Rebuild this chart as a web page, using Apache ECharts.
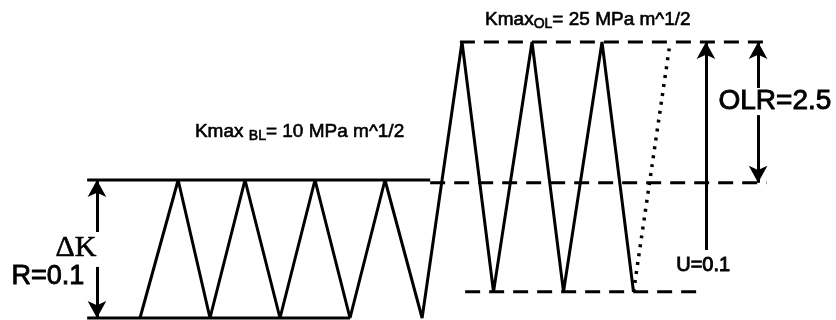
<!DOCTYPE html>
<html><head><meta charset="utf-8">
<script src="https://cdn.jsdelivr.net/npm/echarts@6/dist/echarts.min.js"></script>
<style>html,body{margin:0;padding:0;background:#fff}#c{width:836px;height:320px}</style>
</head><body><div id="c"></div>
<script>
// Schematic units: x = half-cycles, y = K (schematic)
const cycleX = [0, 1.09, 2, 3, 4, 5, 6, 7, 8.06, 9.2, 10.1, 11.2, 12.1, 13.2, 14.1];
const cycleK = [0, 10, 0, 10, 0, 10, 0, 10, 0, 20, 1.9, 20, 1.9, 20, 1.9];
const blMax = 10, blMin = 0, olMax = 20, olMin = 1.9, blMaxDash = 9.8;
const blMaxLineX = [-1.51, 8.29];
const blMaxDashX = [8.29, 17.9];
const blMinLineX = [-1.51, 6.0];
const olMaxDashX = [9.14, 17.9];
const olMinDashX = [9.29, 16.14];
const dottedX = [14.1, 15.14];
const dottedK = [1.9, 19.86];
const uArrowX = 16.17, uArrowK = [4.93, 20];
const olrArrowX = 17.66, olrArrowK = [[16.67, 20], [14.7, 9.8]];
const dkArrowX = -1.23, dkArrowK = [[6.23, 10], [3.7, 0]];
const labelTexts = ['ΔK', 'R=0.1', 'U=0.1', 'OLR=2.5'];
const labelPos = [[-1.83, 5.07], [-2.63, 2.97], [16.09, 3.77], [18.14, 15.72]];
const kmaxBL = ['Kmax', 'BL', '= 10 MPa m^1/2'];
const kmaxOL = ['Kmax', 'OL', '= 25 MPa m^1/2'];
const kmaxPos = [[1.57, 13.48], [9.86, 21.6]];

const chart = echarts.init(document.getElementById('c'));
const black = '#000';
const lineSeries = (data, w, type) => ({
  type: 'line', data, symbol: 'none', silent: true, animation: false, clip: false,
  lineStyle: { color: black, width: w, type: type || 'solid', cap: 'butt' }
});
const arrow = (x, y1, y2) => [{ coord: [x, y1] }, { coord: [x, y2] }];

const series = [
  lineSeries(cycleX.map((x, i) => [x, cycleK[i]]), 3),
  lineSeries(blMaxLineX.map(x => [x, blMax]), 3),
  lineSeries(blMinLineX.map(x => [x, blMin]), 3),
  lineSeries(blMaxDashX.map(x => [x, blMaxDash]), 3, [15, 9]),
  lineSeries(olMaxDashX.map(x => [x, olMax]), 3, [15, 9]),
  lineSeries(olMinDashX.map(x => [x, olMin]), 3, [15, 9]),
  lineSeries(dottedX.map((x, i) => [x, dottedK[i]]), 3.5, [3, 6]),
  {
    type: 'line', data: [], silent: true, animation: false,
    markLine: {
      silent: true, animation: false, symbol: ['none', 'arrow'], symbolSize: [14, 17],
      label: { show: false },
      lineStyle: { color: black, width: 3, type: 'solid', opacity: 1 },
      data: [
        arrow(uArrowX, uArrowK[0], uArrowK[1]),
        arrow(olrArrowX, olrArrowK[0][0], olrArrowK[0][1]),
        arrow(olrArrowX, olrArrowK[1][0], olrArrowK[1][1]),
        arrow(dkArrowX, dkArrowK[0][0], dkArrowK[0][1]),
        arrow(dkArrowX, dkArrowK[1][0], dkArrowK[1][1])
      ]
    }
  },
  {
    type: 'scatter', symbolSize: 0, silent: true, animation: false, clip: false,
    itemStyle: { opacity: 1 },
    data: labelPos.map((p, i) => ({
      value: p,
      label: {
        show: true, position: 'inside', formatter: labelTexts[i], color: black,
        fontFamily: i === 0 ? 'Liberation Serif' : 'Liberation Sans',
        fontWeight: 'normal',
        textBorderColor: black, textBorderWidth: i === 0 ? 0.6 : 0.9,
        fontSize: i === 0 ? 30 : (i === 2 ? 20 : (i === 3 ? 28 : 27))
      }
    }))
  },
  {
    type: 'scatter', symbolSize: 0, silent: true, animation: false, clip: false,
    itemStyle: { opacity: 1 },
    data: [kmaxBL, kmaxOL].map((t, i) => ({
      value: kmaxPos[i],
      label: {
        show: true, position: 'right', distance: 0, color: black,
        formatter: '{a|' + t[0] + '}' + (i === 0 ? '{a| }' : '') + '{s|' + t[1] + '}{a|' + t[2] + '}',
        rich: {
          a: { fontFamily: 'Liberation Sans', fontSize: 19, color: black, textBorderColor: black, textBorderWidth: 0.6 },
          s: { fontFamily: 'Liberation Sans', fontSize: 14, color: black, textBorderColor: black, textBorderWidth: 0.6, padding: [9, 0, 0, 0] }
        }
      }
    }))
  }
];

chart.setOption({
  animation: false,
  grid: { left: 0, right: 0, top: 42, bottom: 2 },
  xAxis: { type: 'value', min: -4, max: 19.8857, show: false },
  yAxis: { type: 'value', min: 0, max: 20, show: false },
  series
});
</script></body></html>
